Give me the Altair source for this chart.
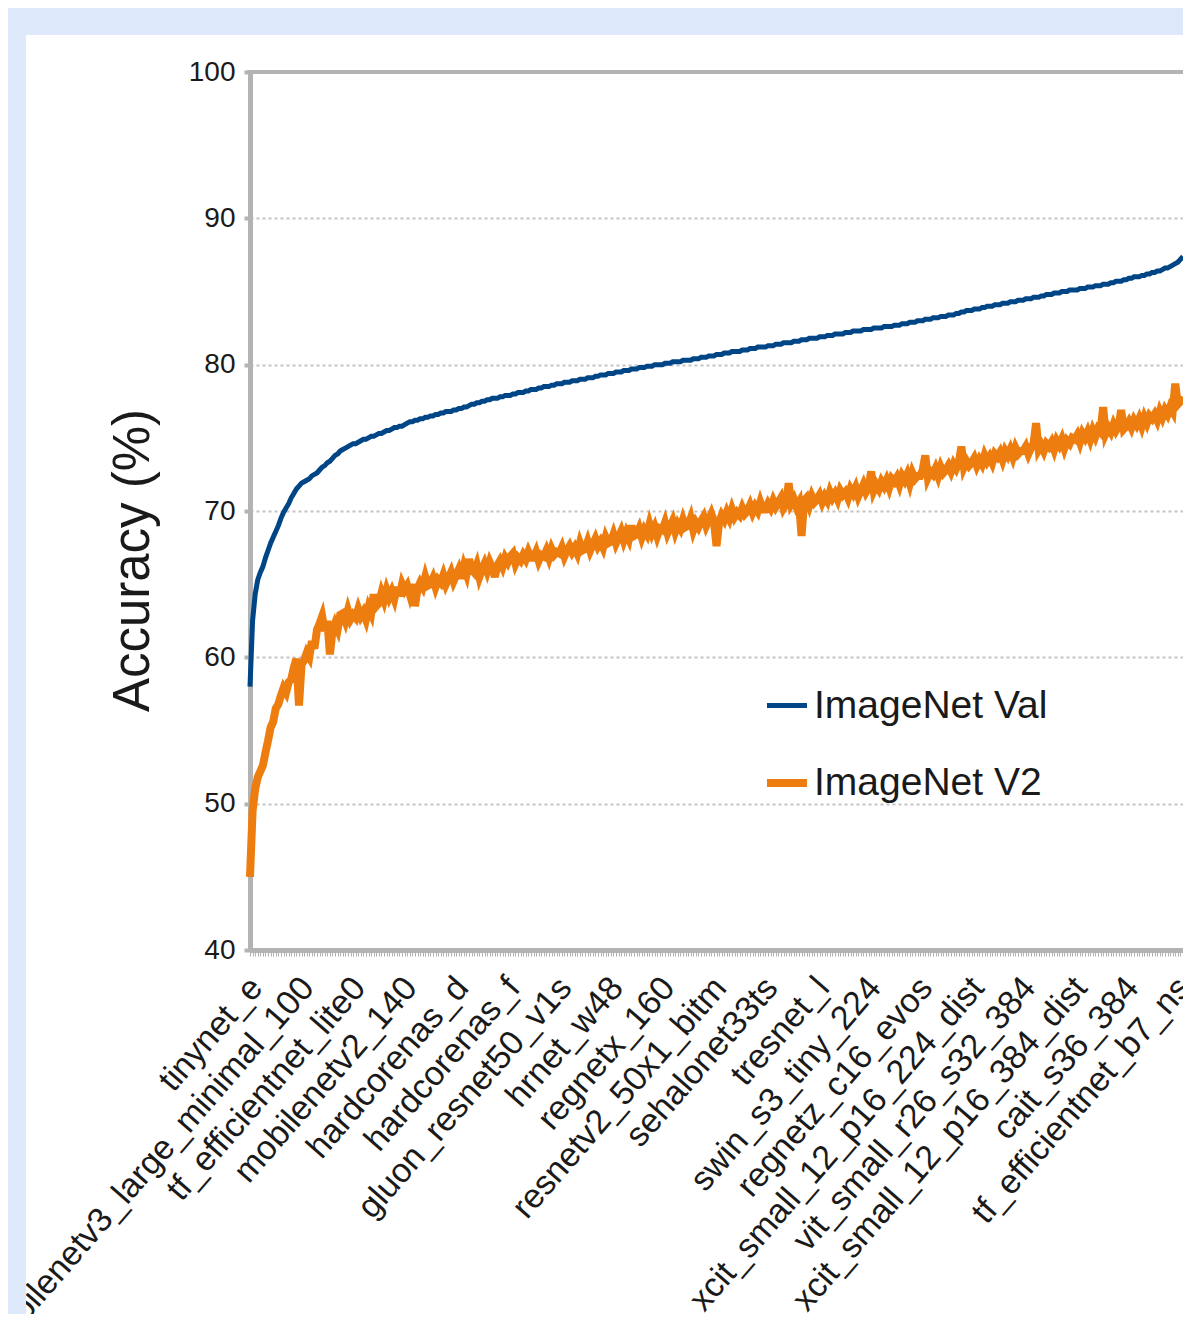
import json
import altair as alt
import pandas as pd

# Tick labels (every 20th model along the x axis)
label_names = [
    "tinynet_e", "mobilenetv3_large_minimal_100", "tf_efficientnet_lite0",
    "mobilenetv2_140", "hardcorenas_d", "hardcorenas_f", "gluon_resnet50_v1s",
    "hrnet_w48", "regnetx_160", "resnetv2_50x1_bitm", "sehalonet33ts",
    "tresnet_l", "swin_s3_tiny_224", "regnetz_c16_evos",
    "xcit_small_12_p16_224_dist", "vit_small_r26_s32_384",
    "xcit_small_12_p16_384_dist", "cait_s36_384", "tf_efficientnet_b7_ns",
]

# ImageNet Val accuracy per model (sorted)
val_acc = [
    58.0, 62.5, 64.3, 65.3, 65.8, 66.2, 66.8, 67.3, 67.8, 68.2,
    68.6, 69.0, 69.5, 69.9, 70.2, 70.5, 70.9, 71.2, 71.5, 71.7,
    71.9, 72.0, 72.1, 72.2, 72.4, 72.5, 72.6, 72.8, 73.0, 73.1,
    73.3, 73.4, 73.6, 73.8, 73.9, 74.1, 74.2, 74.3, 74.4, 74.5,
    74.6, 74.6, 74.7, 74.8, 74.9, 74.9, 75.0, 75.1, 75.1, 75.2,
    75.3, 75.3, 75.4, 75.5, 75.5, 75.6, 75.7, 75.7, 75.8, 75.8,
    75.9, 76.0, 76.1, 76.1, 76.2, 76.2, 76.3, 76.3, 76.4, 76.4,
    76.5, 76.5, 76.6, 76.6, 76.7, 76.7, 76.8, 76.8, 76.8, 76.9,
    76.9, 77.0, 77.0, 77.1, 77.1, 77.2, 77.3, 77.3, 77.4, 77.4,
    77.5, 77.5, 77.6, 77.6, 77.7, 77.7, 77.7, 77.8, 77.8, 77.9,
    77.9, 77.9, 78.0, 78.0, 78.1, 78.1, 78.1, 78.2, 78.2, 78.3,
    78.3, 78.3, 78.4, 78.4, 78.5, 78.5, 78.5, 78.6, 78.6, 78.7,
    78.7, 78.7, 78.8, 78.8, 78.8, 78.9, 78.9, 78.9, 79.0, 79.0,
    79.0, 79.1, 79.1, 79.1, 79.2, 79.2, 79.3, 79.3, 79.3, 79.4,
    79.4, 79.4, 79.5, 79.5, 79.5, 79.6, 79.6, 79.6, 79.7, 79.7,
    79.7, 79.8, 79.8, 79.8, 79.9, 79.9, 79.9, 80.0, 80.0, 80.0,
    80.0, 80.1, 80.1, 80.1, 80.2, 80.2, 80.2, 80.2, 80.3, 80.3,
    80.3, 80.3, 80.4, 80.4, 80.4, 80.5, 80.5, 80.5, 80.6, 80.6,
    80.6, 80.7, 80.7, 80.7, 80.8, 80.8, 80.8, 80.9, 80.9, 80.9,
    80.9, 81.0, 81.0, 81.0, 81.1, 81.1, 81.1, 81.2, 81.2, 81.2,
    81.2, 81.3, 81.3, 81.3, 81.4, 81.4, 81.4, 81.5, 81.5, 81.5,
    81.5, 81.6, 81.6, 81.6, 81.7, 81.7, 81.7, 81.8, 81.8, 81.8,
    81.8, 81.9, 81.9, 81.9, 82.0, 82.0, 82.0, 82.1, 82.1, 82.1,
    82.1, 82.2, 82.2, 82.2, 82.3, 82.3, 82.3, 82.3, 82.4, 82.4,
    82.4, 82.4, 82.5, 82.5, 82.5, 82.5, 82.6, 82.6, 82.6, 82.6,
    82.7, 82.7, 82.7, 82.8, 82.8, 82.8, 82.9, 82.9, 82.9, 83.0,
    83.0, 83.0, 83.1, 83.1, 83.1, 83.2, 83.2, 83.2, 83.3, 83.3,
    83.3, 83.4, 83.4, 83.4, 83.5, 83.5, 83.6, 83.6, 83.7, 83.7,
    83.7, 83.8, 83.8, 83.8, 83.9, 83.9, 84.0, 84.0, 84.0, 84.1,
    84.1, 84.1, 84.2, 84.2, 84.2, 84.3, 84.3, 84.3, 84.4, 84.4,
    84.4, 84.5, 84.5, 84.5, 84.6, 84.6, 84.6, 84.7, 84.7, 84.8,
    84.8, 84.8, 84.9, 84.9, 84.9, 85.0, 85.0, 85.0, 85.1, 85.1,
    85.1, 85.1, 85.2, 85.2, 85.2, 85.3, 85.3, 85.3, 85.4, 85.4,
    85.4, 85.5, 85.5, 85.5, 85.6, 85.6, 85.7, 85.7, 85.7, 85.8,
    85.8, 85.9, 85.9, 86.0, 86.0, 86.0, 86.1, 86.1, 86.2, 86.2,
    86.3, 86.3, 86.4, 86.4, 86.5, 86.6, 86.6, 86.7, 86.8, 86.9,
    87.0, 87.2, 87.4,
]

# ImageNet V2 accuracy for the same models
v2_acc = [
    45.0, 49.5, 51.0, 51.8, 52.2, 52.6, 53.5, 54.3, 55.2, 55.6,
    56.5, 56.8, 57.4, 57.9, 57.6, 58.3, 58.5, 59.3, 59.9, 56.7,
    59.5, 59.8, 60.3, 60.0, 61.1, 60.6, 61.9, 62.3, 62.8, 61.8,
    62.5, 60.2, 61.8, 62.3, 61.9, 62.9, 63.0, 62.5, 63.2, 62.6,
    62.9, 62.7, 63.3, 62.8, 63.1, 62.6, 63.4, 63.0, 64.3, 63.5,
    63.7, 64.4, 63.9, 64.6, 64.1, 64.5, 64.0, 64.8, 64.2, 65.0,
    64.6, 64.9, 64.3, 65.0, 63.5, 64.7, 65.1, 64.8, 65.5, 64.9,
    65.0, 65.4, 64.8, 65.3, 65.1, 65.6, 65.0, 65.4, 65.8, 65.2,
    65.6, 66.0, 65.4, 66.2, 65.7, 66.7, 66.0, 65.8, 66.3, 65.5,
    66.0, 66.4, 65.9, 66.5, 66.1, 65.5, 66.3, 66.6, 66.2, 66.8,
    66.5, 66.9, 67.1, 66.4, 66.8, 66.6, 67.0, 66.7, 67.2, 66.8,
    66.8, 67.2, 66.6, 67.0, 66.9, 67.3, 66.8, 67.4, 67.0, 67.2,
    67.1, 67.5, 66.9, 67.3, 67.6, 67.2, 67.5, 67.1, 67.8, 67.3,
    67.4, 67.9, 67.3, 67.7, 68.1, 67.6, 67.9, 67.5, 68.2, 67.8,
    67.9, 68.4, 67.8, 68.2, 68.6, 68.0, 68.5, 68.1, 69.0, 68.3,
    68.4, 68.8, 68.2, 68.7, 68.4, 69.1, 68.5, 68.9, 68.3, 68.8,
    68.7, 69.2, 68.5, 68.9, 69.3, 68.6, 69.1, 68.8, 69.4, 68.9,
    69.0, 69.5, 68.7, 69.2, 68.9, 69.3, 69.6, 69.0, 69.4, 69.8,
    69.3, 67.6, 69.2, 69.7, 69.4, 69.9, 69.5, 70.1, 69.6, 69.9,
    69.7, 70.2, 69.8, 70.0, 70.4, 69.9, 70.3, 70.0, 70.6, 70.1,
    70.1, 70.5, 70.2, 70.7, 70.3, 70.6, 70.9, 70.2, 70.5, 71.9,
    70.5, 70.8, 70.3, 70.6, 68.3, 70.7, 70.9, 70.4, 71.0, 70.6,
    70.8, 71.1, 70.6, 71.0, 70.7, 71.3, 70.9, 71.2, 70.8, 71.4,
    71.1, 71.3, 70.9, 71.5, 71.2, 71.6, 71.0, 71.4, 71.8, 71.3,
    71.6, 72.7, 71.4, 71.8, 71.5, 72.0, 71.7, 72.1, 71.6, 72.2,
    72.0, 72.3, 71.8, 72.4, 72.1, 72.5, 71.9, 72.6, 72.2, 72.4,
    72.4, 72.8, 73.8, 72.3, 72.7, 72.5, 72.9, 72.4, 73.0, 72.6,
    72.8, 73.1, 72.7, 73.2, 72.9, 73.3, 74.4, 73.0, 73.4, 73.1,
    73.3, 73.6, 73.1, 73.5, 73.2, 73.8, 73.4, 73.7, 73.3, 73.9,
    73.7, 74.0, 73.5, 74.1, 73.8, 74.2, 73.7, 74.3, 73.9, 74.1,
    74.1, 74.4, 73.9, 74.3, 74.6, 76.0, 74.2, 74.5, 74.1, 74.6,
    74.4, 74.7, 74.2, 74.8, 74.5, 74.9, 74.3, 74.8, 74.6, 75.0,
    74.9, 75.2, 74.7, 75.3, 75.0, 75.4, 74.9, 75.5, 75.1, 75.6,
    75.4, 77.1, 75.3, 75.7, 75.4, 75.9, 75.5, 75.8, 76.9, 75.6,
    75.8, 76.1, 75.7, 76.2, 75.9, 76.3, 75.8, 76.4, 76.0, 76.5,
    76.3, 76.6, 76.2, 76.8, 76.4, 76.9, 76.6, 77.1, 76.8, 78.7,
    77.3, 77.5, 77.8,
]

series_names = ["ImageNet Val", "ImageNet V2"]
y_ticks = [40, 50, 60, 70, 80, 90, 100]

N = min(len(val_acc), len(v2_acc))
idx = list(range(N))
df = pd.DataFrame({
    "idx": idx + idx,
    "acc": val_acc[:N] + v2_acc[:N],
    "series": [series_names[0]] * N + [series_names[1]] * N,
})

W, H = 933, 878
PAD = {"left": 242, "top": 64, "right": 0, "bottom": 364}
FONT = "Liberation Sans"
TXT = "#1a1a1a"
GRAY = "#b3b3b3"
BG = "#dde9fb"

label_expr = ("datum.value % 20 === 0 ? " + json.dumps(label_names)
              + "[datum.value / 20] : ''")

x_enc = alt.X(
    "idx:Q",
    scale=alt.Scale(domain=[0, N - 1], nice=False, zero=False),
    axis=alt.Axis(
        values=idx, labelExpr=label_expr, labelAngle=-49, labelAlign="right",
        labelBaseline="middle", labelFontSize=34, labelFont=FONT,
        labelColor=TXT, labelPadding=26, labelOffset=6, labelOverlap=False,
        labelBound=False, labelFlush=False, labelLimit=0,
        tickSize=6, tickColor=GRAY, tickWidth=1,
        domainColor=GRAY, domainWidth=5, grid=False, title=None,
    ),
)
y_enc = alt.Y(
    "acc:Q",
    scale=alt.Scale(domain=[40, 100], nice=False, zero=False),
    axis=alt.Axis(
        values=y_ticks, labelFontSize=28, labelFont=FONT, labelColor=TXT,
        labelPadding=9, tickSize=6, tickWidth=4, tickColor=GRAY,
        domainColor=GRAY, domainWidth=5, grid=True, gridColor="#c4c4c4",
        gridDash=[3, 3], gridWidth=2, title="Accuracy (%)",
        titleFontSize=51, titleFont=FONT, titleFontWeight="normal",
        titleColor=TXT, titleX=-117, titleY=488, titleAngle=-90,
        titleAlign="center", titleBaseline="middle", titleLimit=0,
    ),
)

lines = alt.Chart(df).mark_line().encode(
    x=x_enc,
    y=y_enc,
    color=alt.Color(
        "series:N",
        scale=alt.Scale(domain=series_names, range=["#004586", "#ee7d0f"]),
        legend=alt.Legend(
            title=None, orient="none", legendX=513, legendY=611,
            labelFontSize=39, labelFont=FONT, labelColor=TXT, labelLimit=0,
            symbolType="stroke", symbolSize=1600, symbolStrokeWidth=5,
            rowPadding=33, labelOffset=3,
        ),
    ),
    strokeWidth=alt.StrokeWidth(
        "series:N", scale=alt.Scale(domain=series_names, range=[5, 8]),
        legend=None,
    ),
)

top_border = alt.Chart(alt.Data(values=[{"v": 100}])).mark_rule(
    color=GRAY, strokeWidth=4
).encode(y=alt.Y("v:Q"), x=alt.value(-3), x2=alt.value(W))

strip_top = alt.Chart(alt.Data(values=[{}])).mark_rect(color=BG).encode(
    x=alt.value(-242), x2=alt.value(W + 10), y=alt.value(-64), y2=alt.value(-37)
)
strip_left = alt.Chart(alt.Data(values=[{}])).mark_rect(color=BG).encode(
    x=alt.value(-242), x2=alt.value(-224), y=alt.value(-64), y2=alt.value(H + 380)
)

chart = alt.layer(lines, top_border, strip_top, strip_left).properties(
    width=W, height=H,
    autosize=alt.AutoSizeParams(type="none"),
    padding=PAD,
    background="white",
).configure_view(stroke=None)

chart.save("out.html", embed_options={"renderer": "svg", "actions": False})
